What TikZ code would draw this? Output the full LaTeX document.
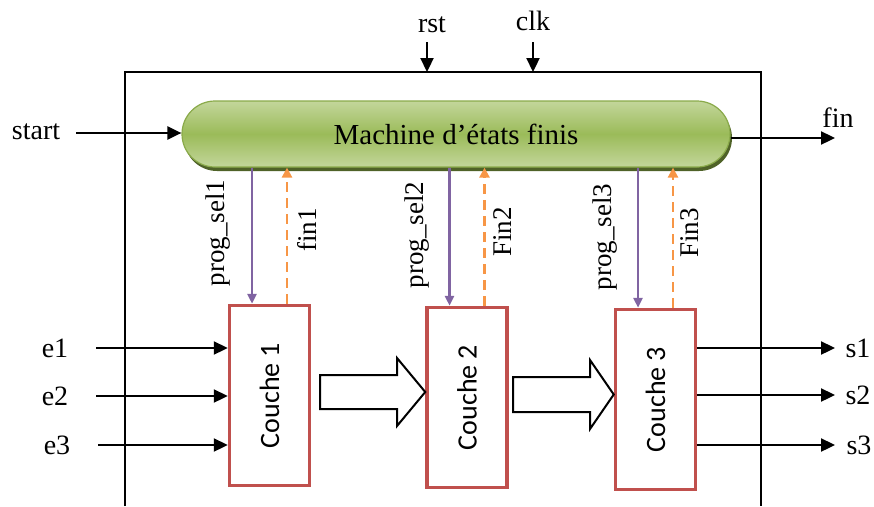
\documentclass[tikz,border=0pt]{standalone}
\usepackage{fontspec}
\setmainfont{Liberation Serif}
\newfontfamily\calib{Carlito}
\usetikzlibrary{arrows.meta,shapes.misc,shadows,calc}
\definecolor{redc}{HTML}{C0504D}
\definecolor{purp}{HTML}{8064A2}
\definecolor{oran}{HTML}{F79646}
\definecolor{gmid}{HTML}{9BBB59}
\definecolor{glight}{HTML}{C3D69B}
\definecolor{gborder}{HTML}{8AAA4A}
\definecolor{gshadow}{HTML}{4F6228}
\tikzset{
  lbl/.style={font=\fontsize{28}{28}\selectfont, inner sep=0pt},
  vlbl/.style={font=\fontsize{27}{27}\selectfont, inner sep=0pt, rotate=90},
  arr/.style={line width=2.3pt, -{Triangle[length=14pt,width=13pt]}},
  selarr/.style={draw=purp, line width=2.8pt, -{Triangle[length=10pt,width=9pt]}},
  finarr/.style={draw=oran, line width=2.8pt, dash pattern=on 10pt off 6pt, -{Triangle[length=10pt,width=10pt]}},
  couche/.style={draw=redc, line width=3.5pt, fill=white, minimum width=80pt, minimum height=180pt, inner sep=0pt,
     font=\calib\fontsize{28}{28}\selectfont},
  pill/.style={rounded rectangle, minimum width=548pt, minimum height=66pt, inner sep=0pt,
     draw=gborder, line width=1.2pt, top color=glight, bottom color=glight, middle color=gmid,
     drop shadow={shadow xshift=2pt, shadow yshift=-4pt, fill=gshadow, opacity=1},
     font=\fontsize{29}{29}\selectfont},
  bigarrow/.style={draw=black, line width=2pt, fill=white, line join=miter},
  frame/.style={draw=black, line width=2pt}
}
\begin{document}
\begin{tikzpicture}[x=1pt,y=-1pt]
\useasboundingbox (0,0) rectangle (874,506);
% outer frame
\coordinate (fbl) at (125,506);
\coordinate (ftl) at (125,72);
\coordinate (ftr) at (761,72);
\coordinate (fbr) at (761,506);
\draw[frame] (fbl) -- (ftl) -- (ftr) -- (fbr);
% FSM
\node[pill] (fsm) at (456,134) {Machine d’états finis};
% layers
\node[couche] (c1) at (269.5,395.5) {\rotatebox{90}{Couche 1}};
\node[couche] (c2) at (467,397.5) {\rotatebox{90}{Couche 2}};
\node[couche] (c3) at (655.5,399.5) {\rotatebox{90}{Couche 3}};
% rst / clk
\node[lbl] (rst) at (432,25) {rst};
\node[lbl] (clk) at (533,21) {clk};
\coordinate (rsts) at (427,42);
\coordinate (clks) at (533,42);
\draw[arr] (rsts) -- (rsts |- ftl);
\draw[arr] (clks) -- (clks |- ftl);
% start / fin
\node[lbl] (start) at (36,132) {start};
\coordinate (starts) at (76,133);
\draw[arr] (starts) -- (starts -| fsm.west);
\node[lbl] (fin) at (838,118) {fin};
\coordinate (fine) at (835,138);
\draw[arr] (fine -| fsm.east) -- (fine);
% prog_sel / fin arrows
\foreach \i in {1,2,3}{
  \coordinate (a\i) at ($(c\i.north)+(-17.5,0)$);
  \coordinate (b\i) at ($(c\i.north)+(17.5,0)$);
  \draw[selarr] (a\i |- fsm.south) -- (a\i);
  \draw[finarr] (b\i) -- (b\i |- fsm.south);
}
\node[vlbl] (ps1) at (218,233) {prog\_sel1};
\node[vlbl] (f1) at (307,230) {fin1};
\node[vlbl] (ps2) at (417,235) {prog\_sel2};
\node[vlbl] (f2) at (503,232) {Fin2};
\node[vlbl] (ps3) at (605,237) {prog\_sel3};
\node[vlbl] (f3) at (690,233) {Fin3};
% inputs
\node[lbl] (e1) at (55,348) {e1};
\node[lbl] (e2) at (55,396) {e2};
\node[lbl] (e3) at (57,445) {e3};
\coordinate (e1s) at (96,348);
\coordinate (e2s) at (96,396);
\coordinate (e3s) at (98,445);
\draw[arr] (e1s) -- (e1s -| c1.west);
\draw[arr] (e2s) -- (e2s -| c1.west);
\draw[arr] (e3s) -- (e3s -| c1.west);
% outputs
\node[lbl] (s1) at (858,348) {s1};
\node[lbl] (s2) at (858,395) {s2};
\node[lbl] (s3) at (859,445) {s3};
\coordinate (s1e) at (835,348);
\coordinate (s2e) at (835,395);
\coordinate (s3e) at (835,445);
\draw[arr] (s1e -| c3.east) -- (s1e);
\draw[arr] (s2e -| c3.east) -- (s2e);
\draw[arr] (s3e -| c3.east) -- (s3e);
% block arrows between layers
\draw[bigarrow] (320,375) -- (397,375) -- (397,358) -- (c2.west |- 0,392) -- (397,426) -- (397,409) -- (320,409) -- cycle;
\draw[bigarrow] (513,377) -- (590,377) -- (590,360) -- (c3.west |- 0,394.5) -- (590,429) -- (590,412) -- (513,412) -- cycle;
\end{tikzpicture}
\end{document}
